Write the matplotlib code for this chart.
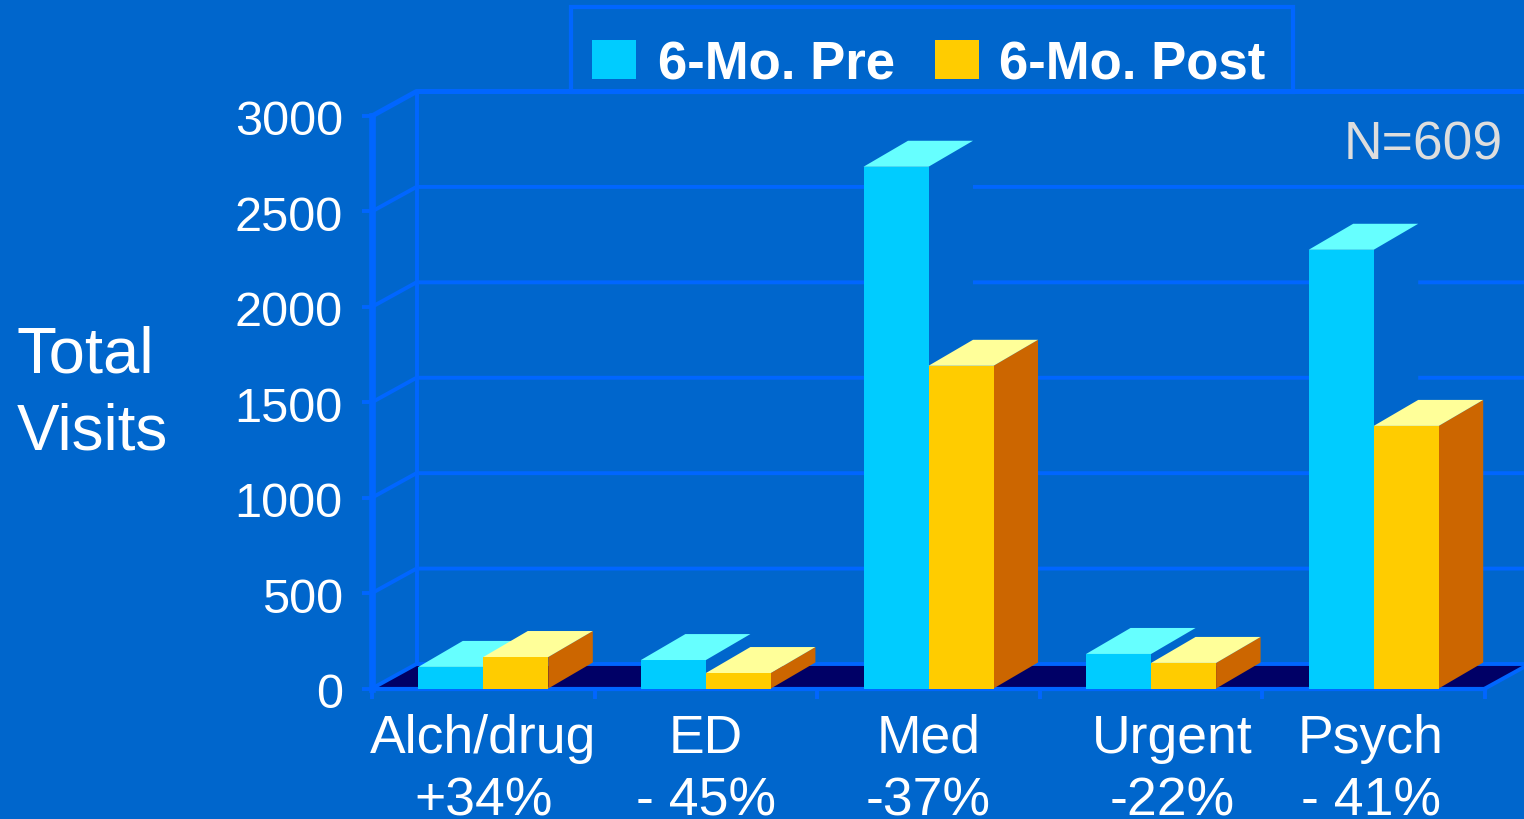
#!/usr/bin/env python3
# -*- coding: utf-8 -*-

"""
Total visits by service type, 6 months before and after, as pseudo-3D bars.
"""

import matplotlib
matplotlib.use("Agg")
import matplotlib.pyplot as plt
from matplotlib.patches import Polygon, Rectangle
from matplotlib.transforms import ScaledTranslation

plt.rcParams["font.family"] = ["Liberation Sans", "DejaVu Sans"]

CATEGORIES = ["Alch/drug", "ED", "Med", "Urgent", "Psych"]
CHANGES = ["+34%", "- 45%", "-37%", "-22%", "- 41%"]
PRE_VISITS = [113, 149, 2734, 181, 2299]
POST_VISITS = [165, 81, 1691, 134, 1376]
Y_TICKS = [0, 500, 1000, 1500, 2000, 2500, 3000]
SERIES_NAMES = ["6-Mo. Pre", "6-Mo. Post"]

W, H = 1524, 820
BG = "#0066CC"
AXIS = "#0066FF"
FLOOR = "#000066"
PRE_FRONT, PRE_TOP = "#00CCFF", "#66FFFF"
POST_FRONT, POST_TOP, POST_SIDE = "#FFCC00", "#FFFF99", "#CC6600"

# axes box in pixels, measured from the top left of the figure
LEFT, RIGHT, TOP, BOTTOM = 372, 1485, 117, 689.5
CAT_PX = (RIGHT - LEFT) / len(CATEGORIES)
VAL_PX = (BOTTOM - TOP) / 3000
DX = 44.5 / CAT_PX
DY = 26 / VAL_PX
WALL_DY = 24.5 / VAL_PX
BAR_W = 65 / CAT_PX

# the axis labels under Urgent and Psych are not centred on their slots
LABEL_SHIFT_PX = [0, 0, 0, 21, -3]


def fx(x):
    return x / W


def fy(y):
    return 1 - y / H


def draw_bar(ax, x0, value, front, top, side):
    x1 = x0 + BAR_W
    # side first so the front face sits on top of it
    ax.add_patch(Polygon(
        [(x1, 0), (x1 + DX, DY), (x1 + DX, value + DY), (x1, value)],
        facecolor=side, edgecolor="none", zorder=3, clip_on=False,
    ))
    ax.add_patch(Polygon(
        [(x0, value), (x0 + DX, value + DY), (x1 + DX, value + DY), (x1, value)],
        facecolor=top, edgecolor="none", zorder=3, clip_on=False,
    ))
    ax.add_patch(Rectangle(
        (x0, 0), BAR_W, value, facecolor=front, edgecolor="none", zorder=3,
    ))


def main():
    fig = plt.figure(figsize=(W / 100, H / 100), dpi=100, facecolor=BG)
    ax = fig.add_axes([fx(LEFT), fy(BOTTOM), (RIGHT - LEFT) / W, (BOTTOM - TOP) / H])
    ax.set_facecolor("none")
    ax.set_xlim(0, len(CATEGORIES))
    ax.set_ylim(0, 3000)

    for name in ("top", "right"):
        ax.spines[name].set_visible(False)
    ax.spines["left"].set_color(AXIS)
    ax.spines["left"].set_linewidth(4.8)
    ax.spines["bottom"].set_color(AXIS)
    ax.spines["bottom"].set_linewidth(3.0)

    # --- Floor ---
    ax.add_patch(Polygon(
        [(0, 0), (DX, WALL_DY), (len(CATEGORIES) + DX, WALL_DY), (len(CATEGORIES), 0)],
        facecolor=FLOOR, edgecolor="none", zorder=1, clip_on=False,
    ))
    ax.plot([len(CATEGORIES), len(CATEGORIES) + DX], [0, WALL_DY],
            color=AXIS, linewidth=2.8, zorder=2, clip_on=False)

    # --- Back wall and grid ---
    ax.plot([DX, DX], [WALL_DY, 3000 + WALL_DY], color=AXIS, linewidth=2.8, zorder=1, clip_on=False)
    for tick in Y_TICKS:
        lw = 3.6 if tick == 3000 else 2.8
        ax.plot([0, DX, len(CATEGORIES) + DX], [tick, tick + WALL_DY, tick + WALL_DY],
                color=AXIS, linewidth=lw, zorder=2, clip_on=False)

    # --- Bars ---
    for i in range(len(CATEGORIES)):
        draw_bar(ax, i + 0.5 - BAR_W, PRE_VISITS[i], PRE_FRONT, PRE_TOP, BG)
    for i in range(len(CATEGORIES)):
        draw_bar(ax, i + 0.5, POST_VISITS[i], POST_FRONT, POST_TOP, POST_SIDE)

    # --- Ticks and labels ---
    ax.set_yticks(Y_TICKS)
    ax.set_yticklabels([str(t) for t in Y_TICKS], fontsize=35, color="white")
    ax.tick_params(axis="y", length=7, width=2.8, color=AXIS, pad=14)
    shift = ScaledTranslation(0, -0.7 / 72, fig.dpi_scale_trans)
    for label in ax.get_yticklabels():
        label.set_transform(label.get_transform() + shift)

    ax.set_xticks(range(len(CATEGORIES) + 1))
    ax.set_xticklabels([])
    ax.tick_params(axis="x", length=7, width=2.8, color=AXIS)

    for i, (cat, change) in enumerate(zip(CATEGORIES, CHANGES)):
        cx = LEFT + (i + 0.5) * CAT_PX + LABEL_SHIFT_PX[i]
        fig.text(fx(cx), fy(753), cat, fontsize=38.5, color="white", ha="center", va="baseline")
        fig.text(fx(cx), fy(816), change, fontsize=38.5, color="white", ha="center", va="baseline")

    fig.text(fx(17), fy(373), "Total", fontsize=47, color="white", va="baseline")
    fig.text(fx(17), fy(450), "Visits", fontsize=46, color="white", va="baseline")
    fig.text(fx(1503), fy(160), "N=609", fontsize=38.5, color="#DDDDDD", ha="right", va="baseline")

    # --- Legend box ---
    fig.add_artist(Rectangle(
        (fx(571), fy(93)), 722 / W, 85 / H, transform=fig.transFigure,
        facecolor="none", edgecolor=AXIS, linewidth=3.0,
    ))
    fig.add_artist(Rectangle(
        (fx(592), fy(80)), 44 / W, 39 / H, transform=fig.transFigure,
        facecolor=PRE_FRONT, edgecolor="none",
    ))
    fig.add_artist(Rectangle(
        (fx(935), fy(80)), 44 / W, 39 / H, transform=fig.transFigure,
        facecolor=POST_FRONT, edgecolor="none",
    ))
    fig.text(fx(658), fy(79), SERIES_NAMES[0], fontsize=38, fontweight="bold",
             color="white", va="baseline")
    fig.text(fx(999), fy(79), SERIES_NAMES[1], fontsize=38, fontweight="bold",
             color="white", va="baseline")

    fig.savefig("out.png", dpi=100, facecolor=BG)
    plt.close(fig)


if __name__ == "__main__":
    main()
